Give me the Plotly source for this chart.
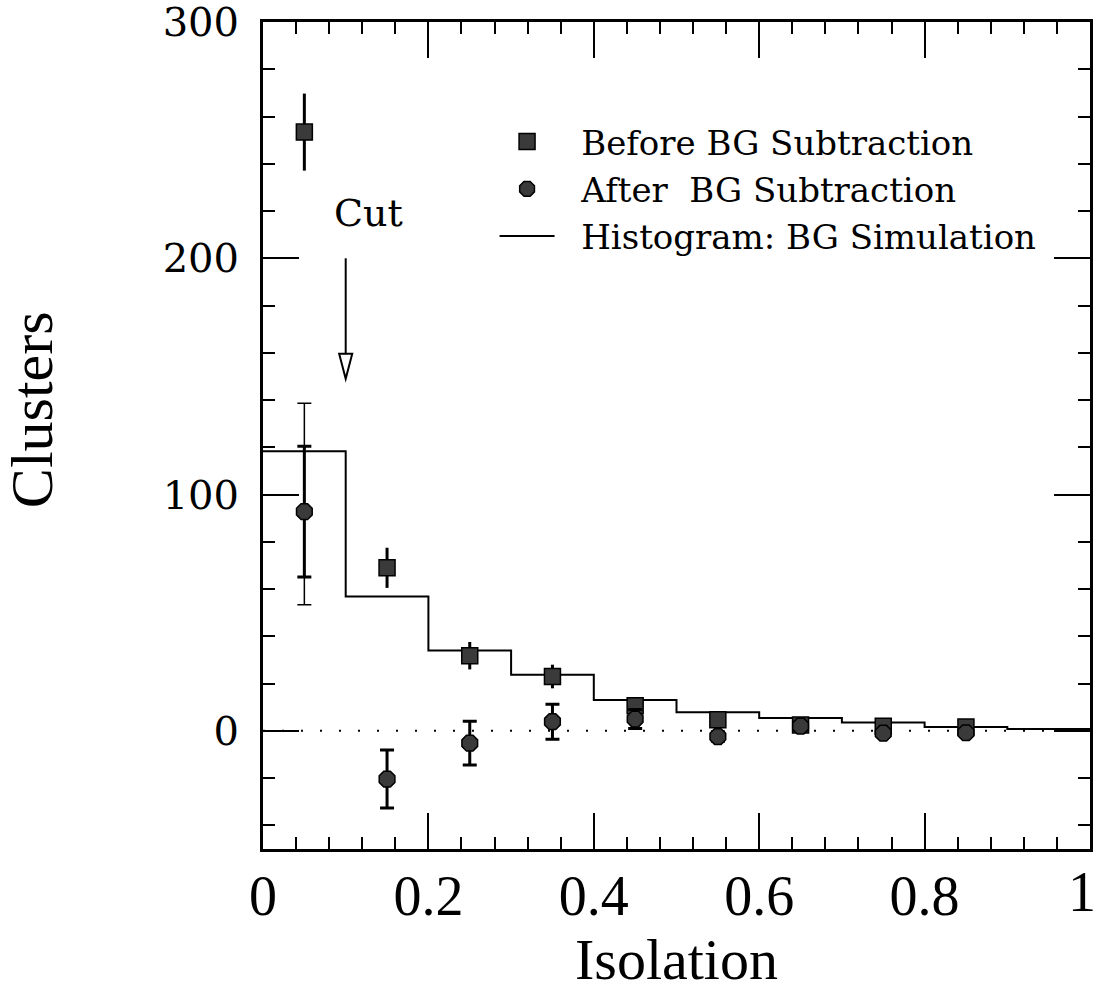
import plotly.graph_objects as go

# ---- data ----
iso_centers = [0.05, 0.15, 0.25, 0.35, 0.45, 0.55, 0.65, 0.75, 0.85]
before_bg = [253.4, 69.0, 31.8, 23.0, 10.6, 4.7, 2.5, 1.9, 1.6]
before_err = [16.3, 8.5, 5.8, 5.0, 3.0, 2.0, 1.5, 1.3, 1.2]
after_bg = [92.8, -20.4, -5.2, 3.9, 5.0, -2.4, 2.0, -1.0, -0.8]
after_err = [27.7, 12.3, 9.3, 7.4, 4.0, 2.0, 1.5, 1.3, 1.2]
after_tot_x = [0.05]
after_tot_y = [92.8]
after_tot_plus = [45.8]
after_tot_minus = [39.4]
bin_edges = [0.0, 0.1, 0.2, 0.3, 0.4, 0.5, 0.6, 0.7, 0.8, 0.9, 1.0]
bg_sim = [118.3, 56.9, 34.0, 23.7, 13.1, 7.9, 5.4, 3.5, 1.6, 0.8]
x_ticks = [0, 0.2, 0.4, 0.6, 0.8, 1]
x_tick_text = ["0", "0.2", "0.4", "0.6", "0.8", "1"]
y_ticks = [0, 100, 200, 300]
y_tick_text = ["0", "100", "200", "300"]
cut_x = 0.1

SERIF = "DejaVu Serif"
TSERIF = "Liberation Serif"

fig = go.Figure()

# total (outer) error bar
fig.add_trace(go.Scatter(
    x=after_tot_x, y=after_tot_y, mode="markers",
    marker=dict(size=1, color="rgba(0,0,0,0)"),
    error_y=dict(type="data", symmetric=False, array=after_tot_plus,
                 arrayminus=after_tot_minus, thickness=1.5, width=7, color="black"),
    showlegend=False, hoverinfo="skip"))

# histogram (BG simulation)
fig.add_trace(go.Scatter(
    x=bin_edges, y=bg_sim + [bg_sim[-1]], mode="lines",
    line=dict(shape="hv", color="black", width=2),
    name="\u00a0\u00a0Histogram: BG Simulation", legendrank=3))

fig.add_trace(go.Scatter(
    x=iso_centers, y=before_bg, mode="markers",
    marker=dict(symbol="square", size=16, color="#3a3a3a",
                line=dict(color="black", width=1.5)),
    error_y=dict(type="data", array=before_err, thickness=3, width=0, color="black"),
    name="\u00a0\u00a0Before BG Subtraction", legendrank=1))

fig.add_trace(go.Scatter(
    x=iso_centers, y=after_bg, mode="markers",
    marker=dict(symbol="octagon", size=17, color="#3a3a3a",
                line=dict(color="black", width=1.5)),
    error_y=dict(type="data", array=after_err, thickness=3, width=7, color="black"),
    name="\u00a0\u00a0After\u00a0\u00a0BG Subtraction", legendrank=2))

# zero dotted line
fig.add_shape(type="line", xref="x", yref="y", x0=0, x1=1, y0=0, y1=0,
              line=dict(color="black", width=2, dash="2px,17px"), layer="below")

# Cut arrow
tip_y = 149
head_h = 10.6
head_hw = 0.0079
fig.add_shape(type="line", xref="x", yref="y", x0=cut_x, x1=cut_x, y0=200, y1=tip_y + head_h,
              line=dict(color="black", width=2))
fig.add_shape(type="path", xref="x", yref="y",
              path=f"M {cut_x - head_hw} {tip_y + head_h} L {cut_x + head_hw} {tip_y + head_h} L {cut_x} {tip_y} Z",
              line=dict(color="black", width=2), fillcolor="white")
fig.add_annotation(x=0.127, y=219, xref="x", yref="y", text="Cut", showarrow=False,
                   font=dict(family=SERIF, size=38, color="black"))

# axis titles
fig.add_annotation(x=-0.279, y=0.531, xref="paper", yref="paper", text="Clusters",
                   showarrow=False, textangle=-90, xanchor="center", yanchor="middle",
                   font=dict(family=TSERIF, size=60, color="black"))
fig.add_annotation(x=0.5, y=-0.1753, xref="paper", yref="paper", text="Isolation",
                   showarrow=False, xanchor="center", yanchor="bottom",
                   font=dict(family=TSERIF, size=58, color="black"))

# last x tick label kept inside the page edge
fig.add_annotation(x=x_ticks[-1], y=-0.0122, xref="x", yref="paper", text=x_tick_text[-1],
                   showarrow=False, xanchor="center", yanchor="top", xshift=-8,
                   font=dict(family=TSERIF, size=56, color="black"))

axis_common = dict(showgrid=False, zeroline=False, showline=True, linecolor="black",
                   linewidth=3, mirror="ticks", ticks="inside", tickcolor="black",
                   tickwidth=2, ticklen=36, automargin=False, ticklabeloverflow="allow")

fig.update_xaxes(range=[0, 1], tickvals=x_ticks, ticktext=x_tick_text[:-1] + [""],
                 minor=dict(dtick=0.04, ticks="inside", ticklen=12, tickwidth=2, tickcolor="black"),
                 tickfont=dict(family=TSERIF, size=56, color="black"),
                 ticklabelstandoff=-4,
                 **axis_common)
fig.update_yaxes(range=[-50, 300], tickvals=y_ticks, ticktext=y_tick_text,
                 minor=dict(dtick=20, ticks="inside", ticklen=12, tickwidth=2, tickcolor="black"),
                 tickfont=dict(family=SERIF, size=40, color="black"),
                 ticklabelstandoff=13,
                 **axis_common)

fig.update_layout(
    width=1097, height=994,
    margin=dict(l=263, r=7, t=22, b=145, autoexpand=False),
    paper_bgcolor="white", plot_bgcolor="white",
    legend=dict(x=0.28, y=0.890, xanchor="left", yanchor="top",
                bgcolor="rgba(0,0,0,0)", itemwidth=55,
                font=dict(family=SERIF, size=34, color="black"),
                tracegroupgap=0),
)

fig.write_html("out.html")
